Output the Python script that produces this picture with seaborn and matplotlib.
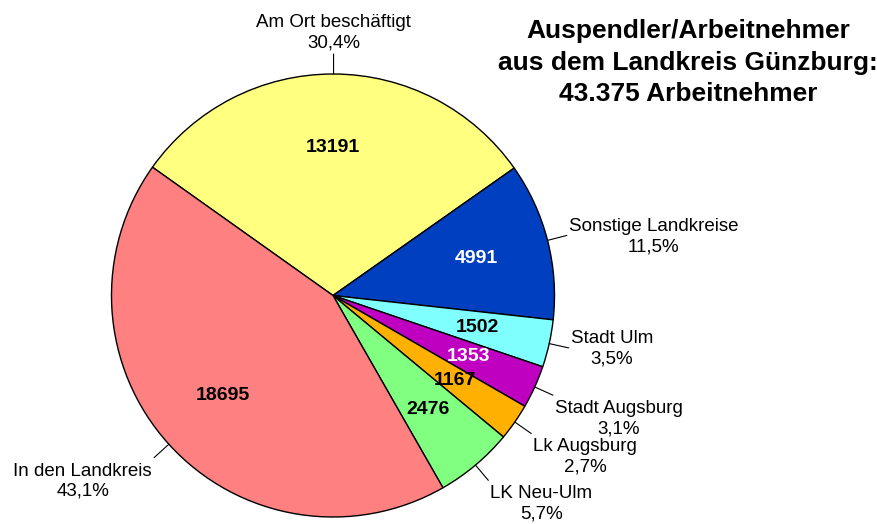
import numpy as np
import matplotlib
matplotlib.use("Agg")
import matplotlib.pyplot as plt
import seaborn as sns

# Commuter destinations of employees living in Landkreis Günzburg
categories = ["Am Ort beschäftigt", "Sonstige Landkreise", "Stadt Ulm",
              "Stadt Augsburg", "Lk Augsburg", "LK Neu-Ulm", "In den Landkreis"]
employees = [13191, 4991, 1502, 1353, 1167, 2476, 18695]
title_lines = ["Auspendler/Arbeitnehmer", "aus dem Landkreis Günzburg:",
               "43.375 Arbeitnehmer"]

slice_colors = ["#FFFF80", "#0040C0", "#80FFFF", "#C000C0",
                "#FFB000", "#80FF80", "#FF8080"]
value_text_colors = ["black", "white", "black", "white", "black", "black", "black"]

sns.set_theme(style="white")
plt.rcParams["font.family"] = ["Liberation Sans", "DejaVu Sans"]
plt.rcParams["text.color"] = "black"

W, H = 877, 524
fig = plt.figure(figsize=(W / 100, H / 100), dpi=100)
ax = fig.add_axes([0, 0, 1, 1])

total = sum(employees)
cx, cy, r = 333.0, H - 295.5, 221.5
start = 144.6

wedges, _, autotexts = ax.pie(
    employees,
    colors=slice_colors,
    startangle=start,
    counterclock=False,
    center=(cx, cy),
    radius=r,
    autopct=lambda p: f"{round(p * total / 100):d}",
    pctdistance=0.67,
    wedgeprops=dict(edgecolor="black", linewidth=1.0),
    textprops=dict(fontsize=14, fontweight="bold"),
)
for t, c in zip(autotexts, value_text_colors):
    t.set_color(c)

# Outer labels with short leader lines
for w, name, val in zip(wedges, categories, employees):
    mid = np.deg2rad((w.theta1 + w.theta2) / 2)
    c, s = np.cos(mid), np.sin(mid)
    x0, y0 = cx + r * c, cy + r * s
    x1, y1 = cx + (r + 20) * c, cy + (r + 20) * s
    ax.plot([x0, x1], [y0, y1], color="black", lw=0.8)
    ha = "left" if c > 0.3 else ("right" if c < -0.3 else "center")
    va = "bottom" if s > 0.5 else ("top" if s < -0.3 else "center")
    dx = 2 if ha == "left" else (-2 if ha == "right" else 0)
    dy = 3 if va == "bottom" else (-5 if va == "top" else -1)
    pct = f"{val / total * 100:.1f}".replace(".", ",") + "%"
    ax.text(x1 + dx, y1 + dy, f"{name}\n{pct}", ha=ha, va=va, ma="center",
            fontsize=13.5, color="black", linespacing=1.25)

ax.text(688, H - 19, "\n".join(title_lines), ha="center", va="top", ma="center",
        fontsize=19, fontweight="bold", color="black", linespacing=1.4)

ax.set_xlim(0, W)
ax.set_ylim(0, H)
ax.set_aspect("equal")
ax.axis("off")

fig.savefig("out.png", dpi=100, facecolor="white")
